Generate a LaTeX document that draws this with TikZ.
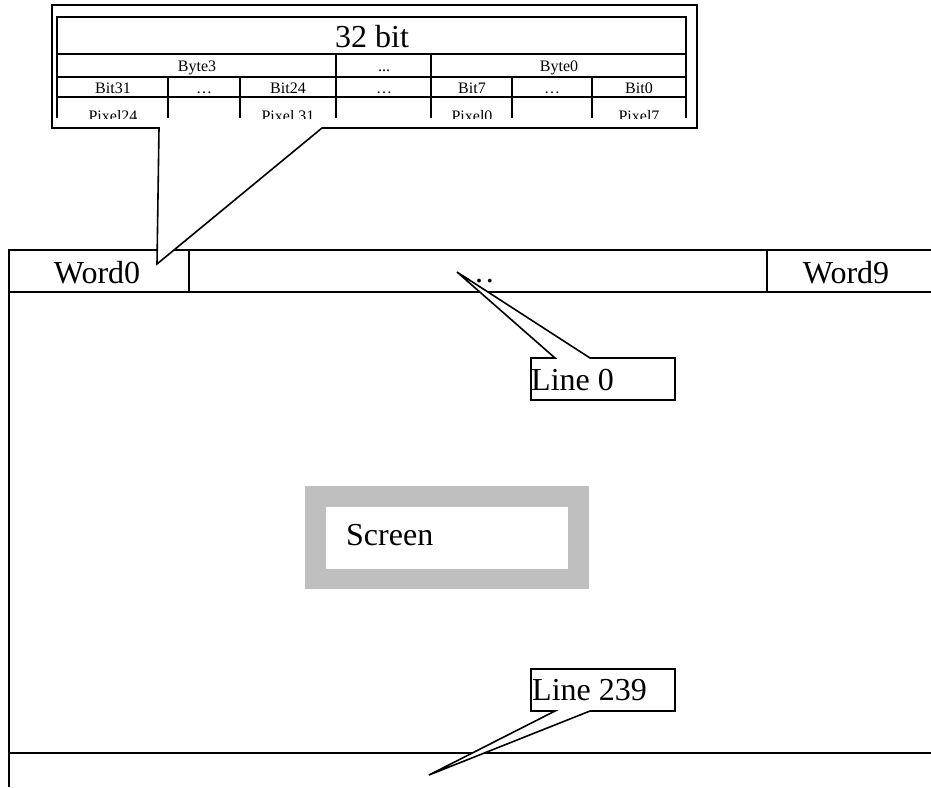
\documentclass[tikz,border=0pt]{standalone}
\usepackage{fontspec}
\setmainfont{Liberation Serif}
\begin{document}
\begin{tikzpicture}[x=1pt,y=-1pt,
  ln/.style={line width=1.6pt, line join=miter},
  big/.style={font=\fontsize{32}{34}\selectfont, inner sep=0pt},
  small/.style={font=\fontsize{16}{18}\selectfont, inner sep=0pt},
  callout/.style={ln, fill=white},
  hatch/.style={fill=black!25, draw=none}]
\useasboundingbox (0,0) rectangle (931,787);

% ---- main frame ----
\draw[ln] (931,250) -- (9,250) -- (9,787);
\draw[ln] (9,292) -- (931,292);
\draw[ln] (189,250) -- (189,292);
\draw[ln] (767,250) -- (767,292);
\draw[ln] (9,753) -- (931,753);
\node[big, anchor=base] (w0) at (97,283) {Word0};
\node[big, anchor=base] (wdots) at (479,282) {…};
\node[big, anchor=base] (w9) at (846,283) {Word9};

% ---- screen ----
\fill[hatch] (305,486) rectangle (589,589);
\fill[white] (326,507) rectangle (568,569);
\node[big, anchor=base west] (screen) at (346,545) {Screen};

% ---- top callout ----
\coordinate (w0tip) at (157,264);
\draw[callout] (159,128) -- (52,128) -- (52,5) -- (697,5) -- (697,128) -- (322,128) -- (w0tip) -- cycle;
\begin{scope}
  \clip (40,0) rectangle (700,118);
  \draw[ln] (57,118) -- (57,17) -- (686,17) -- (686,118);
  \draw[ln] (57,54) -- (686,54);
  \draw[ln] (57,77) -- (686,77);
  \draw[ln] (57,97) -- (686,97);
  \draw[ln] (336,54) -- (336,118);
  \draw[ln] (431,54) -- (431,118);
  \foreach \xx in {168,240,512,592} \draw[ln] (\xx,77) -- (\xx,118);
  \node[big, anchor=base] (t32) at (372,47) {32 bit};
  \node[small, anchor=base] (b3) at (197,71) {Byte3};
  \node[small, anchor=base] (bd) at (384,71) {...};
  \node[small, anchor=base] (b0) at (559,71) {Byte0};
  \node[small, anchor=base] (bit31) at (113,93) {Bit31};
  \node[small, anchor=base] (d1) at (204,93) {…};
  \node[small, anchor=base] (bit24) at (288,93) {Bit24};
  \node[small, anchor=base] (d2) at (384,93) {…};
  \node[small, anchor=base] (bit7) at (472,93) {Bit7};
  \node[small, anchor=base] (d3) at (552,93) {…};
  \node[small, anchor=base] (bit0) at (639,93) {Bit0};
  \node[small, anchor=base] (p24) at (113,121) {Pixel24};
  \node[small, anchor=base] (p31) at (288,121) {Pixel 31};
  \node[small, anchor=base] (p0) at (472,121) {Pixel0};
  \node[small, anchor=base] (p7) at (639,121) {Pixel7};
\end{scope}

% ---- Line 0 callout ----
\coordinate (l0tip) at (457,272);
\draw[callout] (555,358) -- (l0tip) -- (590,358) -- (675,358) -- (675,400) -- (531,400) -- (531,358) -- cycle;
\node[big, anchor=base west] (l0) at (531,390) {Line 0};

% ---- Line 239 callout ----
\coordinate (l239tip) at (429,775);
\draw[callout] (555,711) -- (l239tip) -- (590,711) -- (675,711) -- (675,669) -- (531,669) -- (531,711) -- cycle;
\node[big, anchor=base west] (l239) at (532,700) {Line 239};
\end{tikzpicture}
\end{document}
